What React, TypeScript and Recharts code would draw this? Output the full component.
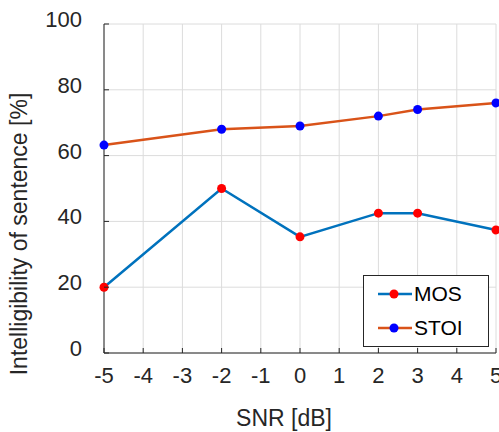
import React from "react";
import { LineChart, Line, XAxis, YAxis, CartesianGrid } from "recharts";

const snr = [-5, -2, 0, 2, 3, 5];
const mos = [20, 50, 35.3, 42.5, 42.5, 37.4];
const stoi = [63.2, 68, 69, 72, 74, 76];
const xTicks = [-5, -4, -3, -2, -1, 0, 1, 2, 3, 4, 5];
const yTicks = [0, 20, 40, 60, 80, 100];

const data = snr.map((s, i) => ({ snr: s, MOS: mos[i], STOI: stoi[i] }));

const FONT = "'Liberation Sans', Arial, Helvetica, sans-serif";
const AX = "#262626";
const BLUE = "#0072BD";
const ORANGE = "#D95319";

const BottomTick = (props: any) => {
  const { x, y, payload } = props;
  return (
    <g>
      <line x1={x} y1={y} x2={x} y2={y - 5} stroke={AX} strokeWidth={1} />
      <text x={x} y={y + 30} textAnchor="middle" fontSize={22} fill={AX} fontFamily={FONT}>
        {payload.value}
      </text>
    </g>
  );
};

const TopTick = (props: any) => {
  const { x, y } = props;
  return <line x1={x} y1={y} x2={x} y2={y + 5} stroke={AX} strokeWidth={1} />;
};

const LeftTick = (props: any) => {
  const { x, y, payload } = props;
  return (
    <g>
      <line x1={x} y1={y} x2={x + 5} y2={y} stroke={AX} strokeWidth={1} />
      <text x={x - 22} y={y + 3} textAnchor="end" fontSize={22} fill={AX} fontFamily={FONT}>
        {payload.value}
      </text>
    </g>
  );
};

const RightTick = (props: any) => {
  const { x, y } = props;
  return <line x1={x} y1={y} x2={x - 5} y2={y} stroke={AX} strokeWidth={1} />;
};

const XLabel = (props: any) => {
  const { viewBox } = props;
  return (
    <text x={viewBox.x + viewBox.width / 2 - 16} y={426} textAnchor="middle" fontSize={23} fill={AX} fontFamily={FONT}>
      SNR [dB]
    </text>
  );
};

const YLabel = () => (
  <text
    x={0}
    y={0}
    transform="translate(27 234) rotate(-90)"
    textAnchor="middle"
    fontSize={23}
    fill={AX}
    fontFamily={FONT}
  >
    Intelligibility of sentence [%]
  </text>
);

const LegendBox = () => {
  const rows = [
    { name: "MOS", line: BLUE, dot: "#ff0000" },
    { name: "STOI", line: ORANGE, dot: "#0000ff" },
  ];
  return (
    <div
      style={{
        position: "absolute",
        left: 363,
        top: 275,
        width: 124,
        height: 70,
        border: `1px solid ${AX}`,
        background: "#fff",
        fontFamily: FONT,
        fontSize: 21,
        color: "#000",
      }}
    >
      {rows.map((r, i) => (
        <div key={r.name} style={{ position: "absolute", left: 13, top: 5 + i * 34, height: 26, display: "flex", alignItems: "center" }}>
          <svg width={36} height={12}>
            <line x1={1} y1={6} x2={35} y2={6} stroke={r.line} strokeWidth={2.5} />
            <circle cx={17} cy={6} r={4.5} fill={r.dot} />
          </svg>
          <span style={{ marginLeft: 1, lineHeight: "26px" }}>{r.name}</span>
        </div>
      ))}
    </div>
  );
};

export default function App() {
  return (
    <div style={{ position: "absolute", left: 0, top: 0, width: 499, height: 432, background: "#fff" }}>
      <LineChart width={499} height={432} data={data} margin={{ top: 24, right: 3, bottom: 0, left: 0 }}>
        <CartesianGrid stroke="#dcdcdc" strokeWidth={1} />
        <XAxis
          dataKey="snr"
          type="number"
          domain={[-5, 5]}
          ticks={xTicks}
          height={79}
          stroke={AX}
          tickLine={false}
          tickSize={0}
          tickMargin={0}
          tick={<BottomTick />}
          interval={0}
          label={<XLabel />}
        />
        <XAxis
          xAxisId="top"
          dataKey="snr"
          type="number"
          orientation="top"
          domain={[-5, 5]}
          ticks={xTicks}
          height={0}
          stroke={AX}
          tickLine={false}
          tickSize={0}
          tickMargin={0}
          tick={<TopTick />}
          interval={0}
        />
        <YAxis
          type="number"
          domain={[0, 100]}
          ticks={yTicks}
          width={104}
          stroke={AX}
          tickLine={false}
          tickSize={0}
          tickMargin={0}
          tick={<LeftTick />}
          interval={0}
          label={<YLabel />}
        />
        <YAxis
          yAxisId="right"
          orientation="right"
          type="number"
          domain={[0, 100]}
          ticks={yTicks}
          width={0}
          stroke={AX}
          tickLine={false}
          tickSize={0}
          tickMargin={0}
          tick={<RightTick />}
          interval={0}
        />
        <Line
          dataKey="MOS"
          stroke={BLUE}
          strokeWidth={2.5}
          dot={{ r: 4.5, fill: "#ff0000", stroke: "none" }}
          activeDot={false}
          isAnimationActive={false}
        />
        <Line
          dataKey="STOI"
          stroke={ORANGE}
          strokeWidth={2.5}
          dot={{ r: 4.5, fill: "#0000ff", stroke: "none" }}
          activeDot={false}
          isAnimationActive={false}
        />
      </LineChart>
      <LegendBox />
    </div>
  );
}
